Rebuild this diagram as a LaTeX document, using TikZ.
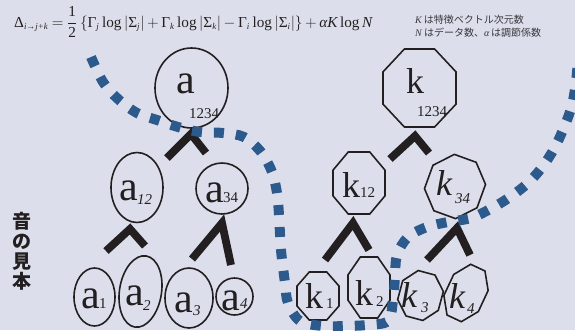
\documentclass[tikz,border=0pt]{standalone}
\usepackage{graphicx}
\usepackage{fontspec}
\setmainfont{Liberation Serif}
\newfontfamily\jpfont{Noto Sans CJK JP}
\usetikzlibrary{shapes.geometric,calc}
\definecolor{bgc}{RGB}{220,223,235}
\definecolor{dotc}{RGB}{45,90,140}
\definecolor{ink}{RGB}{35,31,32}
\definecolor{txtc}{RGB}{55,55,60}
\newcommand\tx[1]{\mbox{#1}}
\newcommand\sbi[1]{_{\mbox{\fontsize{7}{7}\selectfont\itshape #1}}}
\begin{document}
\begin{tikzpicture}[x=1pt,y=-1pt,
  ell/.style={ellipse,draw=ink,line width=1.6pt,inner sep=0pt},
  octo/.style={regular polygon,regular polygon sides=8,draw=ink,line width=1.6pt,inner sep=0pt},
  leg/.style={draw=ink,line width=7.8pt,line join=miter,line cap=butt},
  dots/.style={draw=dotc,line width=10pt,dash pattern=on 10pt off 12pt},
  biga/.style={font=\fontsize{42}{42}\selectfont,inner sep=0pt,anchor=base west,text=ink},
  bigk/.style={font=\fontsize{36}{36}\selectfont,inner sep=0pt,anchor=base west,text=ink},
  bigki/.style={font=\fontsize{36}{36}\selectfont\itshape,inner sep=0pt,anchor=base west,text=ink},
  subn/.style={font=\fontsize{15}{15}\selectfont,inner sep=0pt,anchor=base west,text=ink},
  subi/.style={font=\fontsize{15}{15}\selectfont\itshape,inner sep=0pt,anchor=base west,text=ink},
]
\fill[bgc] (0,0) rectangle (575,330);
\useasboundingbox (0,0) rectangle (575,330);

% formula
\node[anchor=base west,inner sep=0pt,text=ink,font=\fontsize{12}{12}\selectfont] (formula) at (14,27)
  {\resizebox{358pt}{!}{\medmuskip=3mu\thickmuskip=4mu$\displaystyle\tx{Δ}\sbi{i→j+k}=\frac{\tx{1}}{\tx{2}}\left\{\tx{Γ}\sbi{j}\,\tx{log}\left|\tx{Σ}\sbi{j}\right|+\tx{Γ}\sbi{k}\,\tx{log}\left|\tx{Σ}\sbi{k}\right|-\tx{Γ}\sbi{i}\,\tx{log}\left|\tx{Σ}\sbi{i}\right|\right\}+\tx{\itshape αK}\,\tx{log}\,\tx{\itshape N}$}};

% notes
\node[anchor=base west,inner sep=0pt,text=txtc,font=\fontsize{10}{10}\selectfont] (noteK) at (415,23)
  {\textit{K}\,{\jpfont は特徴ベクトル次元数}};
\node[anchor=base west,inner sep=0pt,text=txtc,font=\fontsize{10}{10}\selectfont] (noteN) at (415,36)
  {\textit{N}\,{\jpfont はデータ数、}\textit{α}\,{\jpfont は調節係数}};

% vertical label
\node[anchor=north,inner sep=0pt,align=center,text=ink,font=\jpfont\bfseries\fontsize{19}{20}\selectfont] (oto) at (22,212)
  {音\\の\\見\\本};

% left tree shapes
\node[ell,minimum width=73pt,minimum height=80pt] (a1234) at (191.5,88) {};
\node[ell,minimum width=52pt,minimum height=70pt] (a12) at (137,187.5) {};
\node[ell,minimum width=52pt,minimum height=51pt] (a34) at (222,188.5) {};
\node[ell,minimum width=41pt,minimum height=58pt] (a1) at (94.5,297) {};
\node[ell,minimum width=42pt,minimum height=72pt,rotate=-9] (a2) at (140.5,291.5) {};
\node[ell,minimum width=48pt,minimum height=60pt] (a3) at (189,298) {};
\node[ell,minimum width=37pt,minimum height=37pt] (a4) at (234.5,296.5) {};

% left labels
\node[biga] (ta1234) at (176.5,93) {a};
\node[subn] (sa1234) at (189,118) {1234};
\node[biga] (ta12) at (119.5,200) {a};
\node[subi] (sa12) at (137,204) {12};
\node[biga] (ta34) at (205.5,202) {a};
\node[subn] (sa34) at (223,202) {34};
\node[biga] (ta1) at (81.5,308) {a};
\node[subn] (sa1) at (99,308) {1};
\node[biga] (ta2) at (125.5,305) {a};
\node[subi] (sa2) at (143,310) {2};
\node[biga] (ta3) at (174.5,312) {a};
\node[subi] (sa3) at (193,315) {3};
\node[biga] (ta4) at (221.5,310) {a};
\node[subi] (sa4) at (240,308) {4};

% right tree shapes
\node[octo,minimum size=84.4pt,xscale=0.936] (k1234) at (419.5,88) {};
\node[octo,minimum size=67.1pt,xscale=0.839] (k12) at (359,183) {};
\node[octo,minimum size=64.9pt,rotate=-20,xscale=0.933] (k34) at (455,186.5) {};
\node[octo,minimum size=52pt,xscale=0.875] (k1) at (318,296) {};
\node[octo,minimum size=66pt,xscale=0.689] (k2) at (369,287.5) {};
\node[octo,minimum size=50.9pt,rotate=-15,xscale=0.894] (k3) at (420.5,295.5) {};
\node[octo,minimum size=60.6pt,rotate=-25,xscale=0.679] (k4) at (466,293) {};

% right labels
\node[bigk] (tk1234) at (406,93) {k};
\node[subn] (sk1234) at (417,116) {1234};
\node[bigk] (tk12) at (342,197) {k};
\node[subn] (sk12) at (360,197) {12};
\node[bigki] (tk34) at (436,195) {k};
\node[subi] (sk34) at (455,203) {34};
\node[bigk] (tk1) at (305,308) {k};
\node[subn] (sk1) at (326,308) {1};
\node[bigk] (tk2) at (355,305) {k};
\node[subn] (sk2) at (376,306) {2};
\node[bigki] (tk3) at (401,307) {k};
\node[subi] (sk3) at (421,312) {3};
\node[bigki] (tk4) at (449,308) {k};
\node[subi] (sk4) at (467,313) {4};

% connector points
\coordinate (va) at (191,134);   \coordinate (vaL) at (167,158);  \coordinate (vaR) at (206,153);
\coordinate (va12) at (130,229); \coordinate (va12L) at (106,251); \coordinate (va12R) at (145,246);
\coordinate (va34) at (222,223); \coordinate (va34L) at (192,259); \coordinate (va34R) at (231,265);
\coordinate (vk) at (415,136);   \coordinate (vkL) at (390,159);  \coordinate (vkR) at (429,153);
\coordinate (vk12) at (353,223); \coordinate (vk12L) at (325,260); \coordinate (vk12R) at (369,250);
\coordinate (vk34) at (457,228); \coordinate (vk34L) at (427,260); \coordinate (vk34R) at (470,255);

\draw[leg] (vaL) -- (va) -- (vaR);
\draw[leg] (va12L) -- (va12) -- (va12R);
\draw[leg] (va34L) -- (va34) -- (va34R);
\draw[leg] (vkL) -- (vk) -- (vkR);
\draw[leg] (vk12L) -- (vk12) -- (vk12R);
\draw[leg] (vk34L) -- (vk34) -- (vk34R);

% dotted boundary
\draw[dots] plot[smooth,tension=0.55] coordinates {(91,57) (103,82) (118,99) (137,113) (157,120) (178,127) (200,132) (223,133) (244,137) (261,152) (272,172) (277,193) (279,215) (281,250) (285,283) (288,303) (300,321) (323,326) (345,326) (367,325) (388,321) (393,300) (395,277) (397,255) (408,237) (427,227) (448,222) (471,218) (492,208) (510,197) (528,183) (543,166) (555,147) (565,125) (572,105) (576,82) (578,60)};
\end{tikzpicture}
\end{document}
